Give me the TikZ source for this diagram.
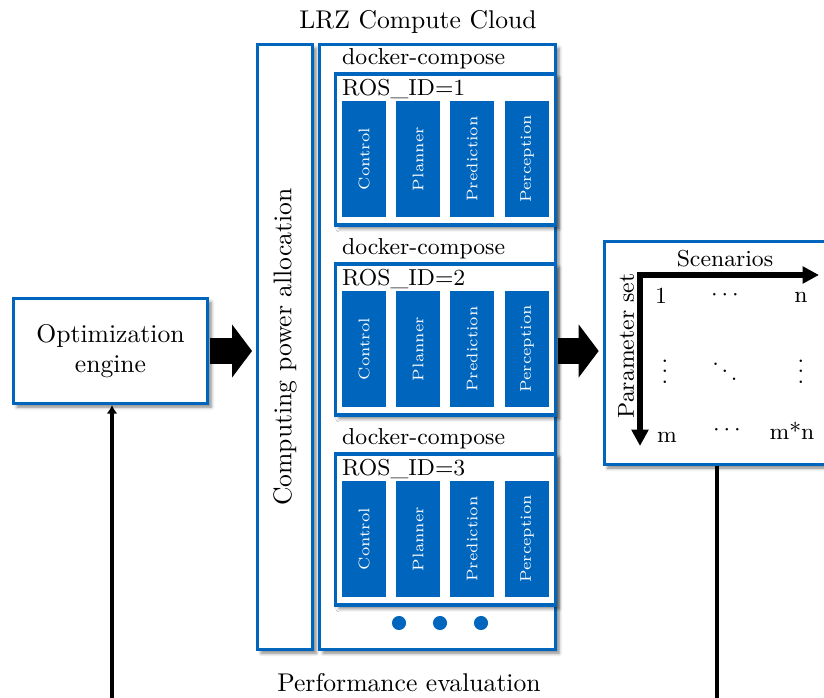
\documentclass[tikz,border=0pt]{standalone}
\usepackage{tikz}
\usetikzlibrary{arrows.meta,shadows.blur,positioning}
\definecolor{tumblue}{RGB}{0,101,189}

\begin{document}
\begin{tikzpicture}[x=0.39pt,y=-0.39pt,
  every node/.style={inner sep=1pt},
  box/.style={draw=tumblue,line width=1.2pt,fill=white,
    blur shadow={shadow xshift=1.4pt,shadow yshift=-1.4pt,shadow blur radius=1.3pt,shadow opacity=50}},
  comp/.style={fill=tumblue,text=white,rotate=90,inner sep=0,
    minimum width=45.2pt,minimum height=17.2pt,
    font=\fontsize{6}{7}\selectfont},
  entry/.style={font=\small,inner sep=0.5pt},
  fatarrow/.style={line width=10.3pt,-{Triangle[length=7.8pt,width=20.3pt]},
    shorten <=0.4pt,shorten >=1.5pt},
  axis/.style={line width=2pt,line join=miter,
    {Triangle[length=6.4pt,width=6.4pt]}-{Triangle[length=6.4pt,width=6.4pt]}},
  feedback/.style={line width=1.2pt}
]
\useasboundingbox (0,0) rectangle (824,698);

% optimizer
\node[box,minimum width=75.7pt,minimum height=40.9pt,align=center] (opt) at (110.5,351) {Optimization\\engine};

% compute cloud
\node[box,minimum width=21.5pt,minimum height=236pt] (cpa) at (285,347) {};
\node[rotate=90] (cpatext) at (cpa.center) {Computing power allocation};
\node[box,minimum width=92pt,minimum height=236pt] (lrz) at (437.5,347) {};
\node (lrztitle) at (418,22) {LRZ Compute Cloud};

\foreach \i/\y in {1/149.5,2/339.5,3/529.5}{
  \node[box,minimum width=85.8pt,minimum height=58.9pt] (ros\i) at (445.5,\y) {};
  \node[font=\small,above right=0pt and 2pt of ros\i.north west] (dc\i) {docker-compose};
  \node[font=\small,below right=1.5pt and 2pt of ros\i.north west] (id\i) {ROS\_ID=\i};
  \foreach \c/\x in {Control/364,Planner/418,Prediction/472,Perception/527}
    \node[comp] (\c\i) at (\x,\y+9.5) {\c};
}
\foreach \i/\x in {1/399,2/440,3/481}
  \node[circle,fill=tumblue,minimum size=5.5pt,inner sep=0] (dot\i) at (\x,623) {};

% results
\node[box,minimum width=92pt,minimum height=86.9pt] (mat) at (722,353) {};
\coordinate (origin) at (640,275);
\coordinate (xend) at (819,275);
\coordinate (yend) at (640,446);
\draw[axis] (yend) -- (origin) -- (xend);
\node[font=\small] (scen) at (725,259) {Scenarios};
\node[font=\small,rotate=90] (pset) at (626,346) {Parameter set};
\node[entry] (m11) at (661,296) {1};
\node[entry] (m12) at (725,295) {$\cdots$};
\node[entry] (m13) at (801,297) {n};
\node[entry] (m21) at (665,364) {$\vdots$};
\node[entry] (m22) at (725,364) {$\ddots$};
\node[entry] (m23) at (801,364) {$\vdots$};
\node[entry] (m31) at (667,437) {m};
\node[entry] (m32) at (727,430) {$\cdots$};
\node[entry] (m33) at (792,431) {m*n};

\draw[fatarrow] (opt.east) -- (cpa.west |- opt.east);
\draw[fatarrow] (lrz.east |- opt.east) -- (mat.west |- opt.east);

% feedback loop
\coordinate (fbin) at (112,720);
\coordinate (fbout) at (717,720);
\draw[feedback] (fbout |- mat.south) -- (fbout);
\draw[feedback,-{Latex[length=3.4pt,width=4.2pt]}] (fbin) -- (fbin |- opt.south);
\node (perf) at (409,683) {Performance evaluation};
\end{tikzpicture}
\end{document}
